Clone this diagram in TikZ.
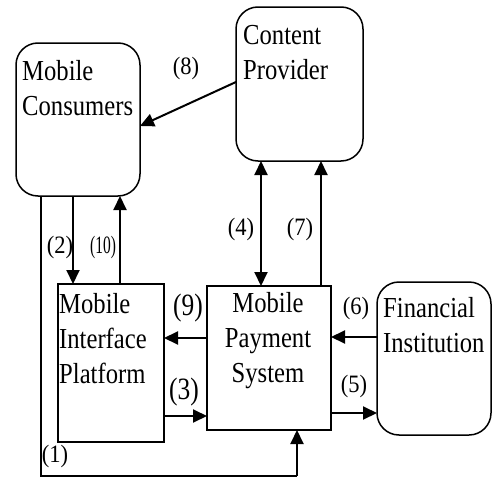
\documentclass[tikz,border=0pt]{standalone}
\usepackage{fontspec}
\setmainfont{Liberation Serif}
\usepackage{graphicx}
\usetikzlibrary{arrows.meta}
\newcommand\tb[2][l]{\scalebox{0.85}[1]{\begin{tabular}[t]{@{}#1@{}}#2\end{tabular}}}
\newcommand\lb[2][0.9]{\scalebox{#1}[1]{#2}}
\begin{document}
\begin{tikzpicture}[x=1pt,y=-1pt,
  rbox/.style={draw,line width=1.5pt,rounded corners=22pt,inner sep=0pt,outer sep=0pt},
  sbox/.style={draw,line width=1.5pt,inner sep=0pt,outer sep=0pt},
  txt/.style={inner sep=0pt,anchor=base west,font=\fontsize{29}{35}\selectfont},
  lab/.style={inner sep=0pt,font=\fontsize{25}{28}\selectfont},
  blab/.style={inner sep=0pt,font=\fontsize{31}{34}\selectfont},
  arr/.style={line width=2pt,-{Triangle[length=14pt,width=13pt]}},
  darr/.style={line width=2pt,{Triangle[length=14pt,width=13pt]}-{Triangle[length=14pt,width=13pt]}},
  ln/.style={line width=2pt}]
\useasboundingbox (0,0) rectangle (493,479);
% boxes
\node[rbox,minimum width=124pt,minimum height=153pt] (mc) at (78,119.5) {};
\node[rbox,minimum width=127pt,minimum height=154pt] (cp) at (299.5,84) {};
\node[sbox,minimum width=106pt,minimum height=158pt] (mip) at (111,363) {};
\node[sbox,minimum width=124pt,minimum height=144pt] (mps) at (269,358) {};
\node[rbox,minimum width=114pt,minimum height=153pt] (fi) at (434,358.5) {};
% texts
\node[txt] (mct) at (22,80) {\tb{Mobile\\Consumers}};
\node[txt] (cpt) at (243,45) {\tb{Content\\Provider}};
\node[txt] (mipt) at (59,313) {\tb{Mobile\\Interface\\Platform}};
\node[txt,anchor=base] (mpst) at (268,312) {\tb[c]{Mobile\\Payment\\System}};
\node[txt] (fit) at (383,317) {\tb{Financial\\Institution}};
% connectors
\draw[arr] (cp.west |- 0,82) -- (mc.east |- 0,126);
\draw[arr] (mc.south -| 73,0) -- (mip.north -| 73,0);
\draw[arr] (mip.north -| 120,0) -- (mc.south -| 120,0);
\coordinate (bl) at (41,476);
\coordinate (br) at (297,476);
\draw[ln] (mc.south -| 41,0) -- (bl) -- (br);
\draw[arr] (br) -- (mps.south -| 297,0);
\draw[arr] (mip.east |- 0,416) -- (mps.west |- 0,416);
\draw[arr] (mps.west |- 0,338) -- (mip.east |- 0,338);
\draw[darr] (cp.south -| 261,0) -- (mps.north -| 261,0);
\draw[arr] (mps.north -| 321,0) -- (cp.south -| 321,0);
\draw[arr] (fi.west |- 0,337) -- (mps.east |- 0,337);
\draw[arr] (mps.east |- 0,413) -- (fi.west |- 0,413);
% labels
\node[lab] (l8) at (186,68) {\lb{(8)}};
\node[lab] (l2) at (60,247) {\lb{(2)}};
\node[lab] (l10) at (103,247) {\lb[0.62]{(10)}};
\node[lab] (l1) at (55,456) {\lb{(1)}};
\node[blab] (l9) at (188,308) {\lb[0.82]{(9)}};
\node[blab] (l3) at (184,392) {\lb[0.82]{(3)}};
\node[lab] (l4) at (241,229) {\lb{(4)}};
\node[lab] (l7) at (300,229) {\lb{(7)}};
\node[lab] (l6) at (356,308) {\lb{(6)}};
\node[lab] (l5) at (354,386) {\lb{(5)}};
\end{tikzpicture}
\end{document}
